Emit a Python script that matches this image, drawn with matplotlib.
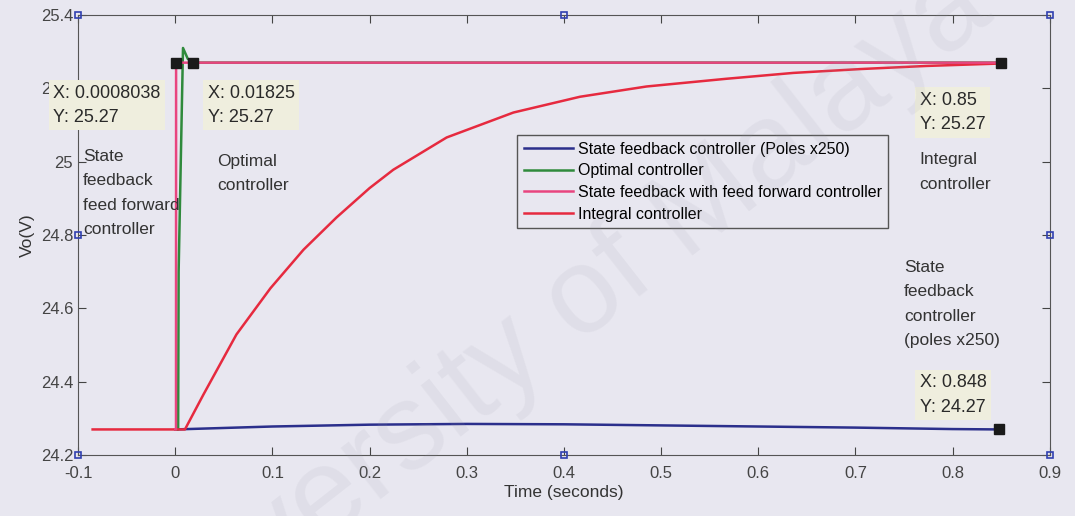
import numpy as np
import matplotlib.pyplot as plt

plt.rcParams['font.family'] = ['Liberation Sans', 'DejaVu Sans']

# state feedback controller (poles x250)
t_sf = [0.0, 0.05, 0.1, 0.2, 0.3, 0.4, 0.5, 0.6, 0.7, 0.8, 0.848]
v_sf = [24.27, 24.274, 24.278, 24.283, 24.285, 24.284, 24.281, 24.278, 24.275, 24.271, 24.27]

# optimal controller
t_opt = [0.0, 0.003, 0.0035, 0.008, 0.013, 0.02, 0.85]
v_opt = [24.27, 24.27, 24.7, 25.31, 25.28, 25.27, 25.27]

# state feedback with feed forward controller
t_ff = [0.0, 0.0008, 0.0009, 0.85]
v_ff = [24.27, 24.27, 25.27, 25.27]

# integral controller
t_int = [-0.085, 0.0, 0.01, 0.018, 0.029, 0.063, 0.098, 0.132, 0.166, 0.2, 0.2244, 0.2793,
         0.348, 0.4165, 0.485, 0.567, 0.636, 0.705, 0.773, 0.842, 0.85]
v_int = [24.27, 24.27, 24.27, 24.31, 24.365, 24.529, 24.655, 24.76, 24.848, 24.928, 24.978, 25.066,
         25.134, 25.177, 25.205, 25.226, 25.242, 25.2525, 25.261, 25.267, 25.268]

tips_x = [0.0008038, 0.01825, 0.85, 0.848]
tips_y = [25.27, 25.27, 25.27, 24.27]
tip_labels = ['X: 0.0008038\nY: 25.27', 'X: 0.01825\nY: 25.27', 'X: 0.85\nY: 25.27', 'X: 0.848\nY: 24.27']
tip_pos = [(-0.1257, 25.21), (0.0337, 25.21), (0.7663, 25.19), (0.7663, 24.42)]

bg = '#e8e7f0'
fig = plt.figure(figsize=(10.75, 5.16), dpi=100, facecolor=bg)
ax = fig.add_axes([0.0726, 0.118, 0.904, 0.853], facecolor=bg)

# watermark from the scanned page
fig.text(0.505, 0.357, 'University of Malaya', fontsize=88, color='#9a9aa8', alpha=0.11,
         rotation=38, ha='center', va='center', zorder=0.5)

ax.plot(t_sf, v_sf, color='#2b2f8c', lw=1.8, label='State feedback controller (Poles x250)')
ax.plot(t_opt, v_opt, color='#2f8a3c', lw=1.8, label='Optimal controller')
ax.plot(t_int, v_int, color='#e62a3f', lw=1.8, label='Integral controller', zorder=2.1)
ax.plot(t_ff, v_ff, color='#e8457f', lw=1.8, label='State feedback with feed forward controller', zorder=2.2)

ax.plot(tips_x, tips_y, 's', color='#1a1a1a', ms=7, zorder=5)
for lab, (px, py) in zip(tip_labels, tip_pos):
    ax.text(px, py, lab, fontsize=13, color='#2a2a2a', va='top', ha='left', linespacing=1.55,
            bbox=dict(boxstyle='square,pad=0.25', fc='#efeede', ec='none'), zorder=4)

txt = dict(fontsize=12.5, color='#333333', va='top', ha='left', linespacing=1.78)
ax.text(-0.0949, 25.035, 'State\nfeedback\nfeed forward\ncontroller', **txt)
ax.text(0.043, 25.021, 'Optimal\ncontroller', **txt)
ax.text(0.766, 25.026, 'Integral\ncontroller', **txt)
ax.text(0.7498, 24.732, 'State\nfeedback\ncontroller\n(poles x250)', **txt)

ax.set_xlim(-0.1, 0.9)
ax.set_ylim(24.2, 25.4)
ax.set_xticks(np.arange(-0.1, 0.95, 0.1))
ax.set_xticklabels(['-0.1', '0', '0.1', '0.2', '0.3', '0.4', '0.5', '0.6', '0.7', '0.8', '0.9'])
ax.set_yticks([24.2, 24.4, 24.6, 24.8, 25.0, 25.2, 25.4])
ax.set_yticklabels(['24.2', '24.4', '24.6', '24.8', '25', '25.2', '25.4'])
ax.tick_params(direction='in', top=True, right=True, labelsize=12, colors='#444444', length=6)
ax.tick_params(axis='x', pad=8)
for s in ax.spines.values():
    s.set_color('#555555')

ax.set_xlabel('Time (seconds)', fontsize=12.5, color='#333333', labelpad=3)
ax.set_ylabel('Vo(V)', fontsize=12.5, color='#333333', labelpad=4)

# selection handles
hx = [-0.1, 0.4, 0.9, 0.9, 0.9, 0.4, -0.1, -0.1]
hy = [25.4, 25.4, 25.4, 24.8, 24.2, 24.2, 24.2, 24.8]
ax.plot(hx, hy, 's', mfc='none', mec='#3040b0', ms=5, mew=1.2, clip_on=False, zorder=6)

h, l = ax.get_legend_handles_labels()
order = [0, 1, 3, 2]
ax.legend([h[i] for i in order], [l[i] for i in order], loc='upper left',
          bbox_to_anchor=(0.452, 0.727), borderaxespad=0, fontsize=11.5, frameon=True,
          fancybox=False, edgecolor='#555555', facecolor=bg, framealpha=1,
          handlelength=3.1, labelspacing=0.42, borderpad=0.4, handletextpad=0.3)

fig.savefig('out.png', dpi=100, facecolor=bg)
